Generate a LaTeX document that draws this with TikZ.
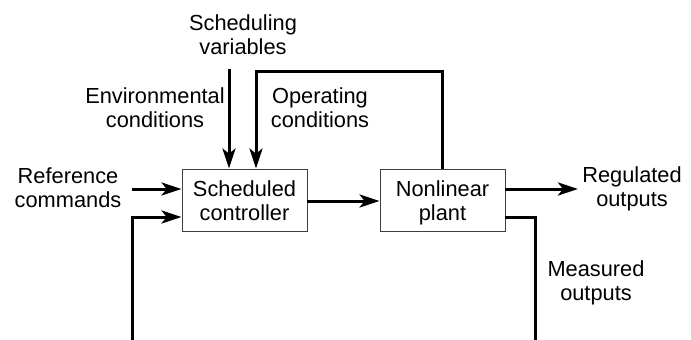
\documentclass[tikz,border=0pt]{standalone}
\usepackage{fontspec}
\setmainfont{Liberation Sans}
\usetikzlibrary{arrows.meta}
\tikzset{
  lbl/.style={align=center, anchor=base, inner sep=0pt, font=\fontsize{21.8}{23.5}\selectfont},
  blockbox/.style={draw=black!75, line width=0.9pt, minimum width=125pt, minimum height=62pt, inner sep=0pt},
  sig/.style={line width=3pt},
  arr/.style={sig, -{Stealth[length=20pt,width=13pt,inset=5pt]}}
}
\begin{document}
\begin{tikzpicture}[x=1pt,y=-1pt]
\useasboundingbox (0,0) rectangle (691,340);
% blocks
\node[blockbox] (ctrl) at (244.5,200) {};
\node[blockbox] (plant) at (442.5,200) {};
\node[lbl] (ctrltxt) at (244.5,220) {Scheduled\\controller};
\node[lbl] (planttxt) at (442.5,220) {Nonlinear\\plant};
% labels
\node[lbl] (schedtxt) at (243,54) {Scheduling\\variables};
\node[lbl] (envtxt) at (155,127) {Environmental\\conditions};
\node[lbl] (optxt) at (320,127) {Operating\\conditions};
\node[lbl] (reftxt) at (68,207) {Reference\\commands};
\node[lbl] (regtxt) at (632,206) {Regulated\\outputs};
\node[lbl] (meastxt) at (596,300) {Measured\\outputs};
% free ends
\coordinate (schedIn) at (229,69);
\coordinate (refIn) at (132,189);
\coordinate (fbIn) at (132,340);
\coordinate (opCorner) at (256,71);
\coordinate (regOut) at (578,189);
\coordinate (measOut) at (535,340);
% connectors
\draw[arr] (schedIn) -- (schedIn |- ctrl.north);
\draw[arr] (plant.north) |- (opCorner) -- (opCorner |- ctrl.north);
\draw[arr] (refIn) -- (refIn -| ctrl.west);
\draw[arr] (fbIn) |- ([yshift=-17pt]ctrl.west);
\draw[arr] ([yshift=-1pt]ctrl.east) -- ([yshift=-1pt]plant.west);
\draw[arr] ([yshift=11pt]plant.east) -- (regOut);
\draw[sig] ([yshift=-17pt]plant.east) -| (measOut);
\end{tikzpicture}
\end{document}
